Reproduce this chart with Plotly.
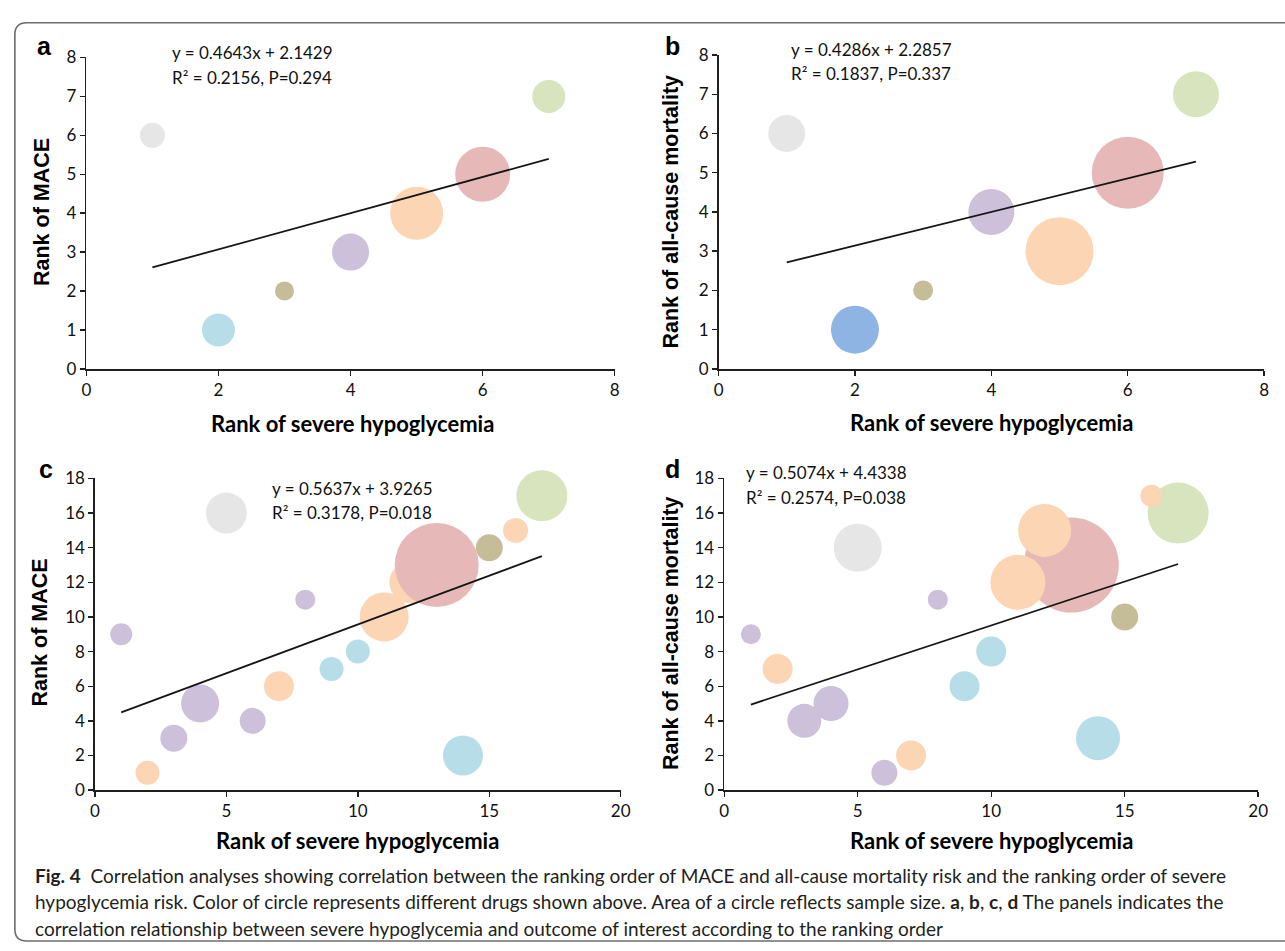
import numpy as np
import plotly.graph_objects as go

W, H = 1285, 951

# ---------------- data ----------------
GREY, LBLUE, OLIVE, PURPLE = "#e6e6e6", "#b7dee8", "#c4bd97", "#ccc0da"
ORANGE, RED, GREEN, BLUE = "#fcd5b5", "#e6b9b8", "#d7e4bd", "#8db4e2"

a_x = [1, 2, 3, 4, 5, 6, 7]
a_y = [6, 1, 2, 3, 4, 5, 7]
a_size = [25, 33, 19, 37, 53, 55, 33]
a_col = [GREY, LBLUE, OLIVE, PURPLE, ORANGE, RED, GREEN]

b_x = [1, 2, 3, 4, 5, 6, 7]
b_y = [6, 1, 2, 4, 3, 5, 7]
b_size = [37, 48, 20, 46, 68, 72, 46]
b_col = [GREY, BLUE, OLIVE, PURPLE, ORANGE, RED, GREEN]

c_x = list(range(1, 18))
c_y = [9, 1, 3, 5, 16, 4, 6, 11, 7, 8, 10, 12, 13, 2, 14, 15, 17]
c_size = [22, 24, 27, 38, 41, 26, 30, 20, 24, 24, 49, 42, 84, 40, 27, 25, 51]
c_col = [PURPLE, ORANGE, PURPLE, PURPLE, GREY, PURPLE, ORANGE, PURPLE, LBLUE,
         LBLUE, ORANGE, ORANGE, RED, LBLUE, OLIVE, ORANGE, GREEN]

d_x = list(range(1, 18))
d_y = [9, 7, 4, 5, 14, 1, 2, 11, 6, 8, 12, 15, 13, 3, 10, 17, 16]
d_size = [20, 30, 34, 35, 48, 26, 30, 20, 30, 30, 55, 53, 95, 44, 27, 22, 61]
d_col = c_col

eq_lines = [
    ["y = 0.4643x + 2.1429", "R² = 0.2156, P=0.294"],
    ["y = 0.4286x + 2.2857", "R² = 0.1837, P=0.337"],
    ["y = 0.5637x + 3.9265", "R² = 0.3178, P=0.018"],
    ["y = 0.5074x + 4.4338", "R² = 0.2574, P=0.038"],
]
y_titles = ["Rank of MACE", "Rank of all-cause mortality", "Rank of MACE", "Rank of all-cause mortality"]
x_title = "Rank of severe hypoglycemia"
letters = ["a", "b", "c", "d"]

caption = [
    "<b>Fig. 4</b>  Correlation analyses showing correlation between the ranking order of MACE and all-cause mortality risk and the ranking order of severe",
    "hypoglycemia risk. Color of circle represents different drugs shown above. Area of a circle reflects sample size. <b>a</b>, <b>b</b>, <b>c</b>, <b>d</b> The panels indicates the",
    "correlation relationship between severe hypoglycemia and outcome of interest according to the ranking order",
]

# ---------------- layout helpers ----------------
def px(x):
    return x / W

def py(y):
    return 1 - y / H

# pixel geometry of plot areas: (left, right, top, bottom)
boxes = [(82.3, 617, 47.5, 366), (722, 1274, 45, 366),
         (91, 623, 478, 796.7), (727.7, 1268, 478, 796.7)]
xranges = [[0, 8], [0, 8], [0, 20], [0, 20]]
yranges = [[0, 8], [0, 8], [0, 18], [0, 18]]
xdt = [2, 2, 5, 5]
ydt = [1, 1, 2, 2]

eq_pos = [(167, 42, 68), (793.5, 39, 64), (268.5, 488, 513), (748, 472, 497)]
letter_pos = [(40, 36), (675, 36), (41, 468), (675, 468)]
ytitle_pos = [(38, 206), (674, 205), (35, 636), (674, 636)]
xtitle_pos = [(352, 422), (998, 421), (357, 848), (998, 848)]

fig = go.Figure()

panels = [(a_x, a_y, a_size, a_col, "x"), (b_x, b_y, b_size, b_col, "x"),
          (c_x, c_y, c_size, c_col, "x"), (d_x, d_y, d_size, d_col, "size")]

AX = "#1f1f1f"
TICKFONT = dict(family="Lato, Carlito, Liberation Sans", size=17, color="#111")

for i, (xs, ys, ss, cs, order) in enumerate(panels):
    n = i + 1
    xa = "x" if n == 1 else f"x{n}"
    ya = "y" if n == 1 else f"y{n}"
    idx = list(range(len(xs)))
    if order == "size":
        idx = sorted(idx, key=lambda k: -ss[k])
    fig.add_trace(go.Scatter(
        x=[xs[k] for k in idx], y=[ys[k] for k in idx], mode="markers",
        marker=dict(size=[ss[k] for k in idx], sizemode="diameter",
                    color=[cs[k] for k in idx], opacity=1,
                    line=dict(width=0)),
        cliponaxis=False, showlegend=False, xaxis=xa, yaxis=ya, hoverinfo="skip"))
    slope, icpt = np.polyfit(xs, ys, 1)
    xl = np.array([min(xs), max(xs)], dtype=float)
    fig.add_trace(go.Scatter(
        x=xl, y=slope * xl + icpt, mode="lines",
        line=dict(color="#151515", width=1.8),
        cliponaxis=False, showlegend=False, xaxis=xa, yaxis=ya, hoverinfo="skip"))

    l, r, t, b = boxes[i]
    axkw = dict(showgrid=False, zeroline=False, showline=True, linecolor=AX,
                linewidth=1.6, ticks="outside", ticklen=5, tickwidth=1.4,
                tickcolor=AX, tickfont=TICKFONT, fixedrange=True)
    fig.layout[f"xaxis{'' if n == 1 else n}"] = dict(
        domain=[px(l), px(r)], range=xranges[i], dtick=xdt[i], tick0=0,
        anchor=ya, **axkw)
    fig.layout[f"yaxis{'' if n == 1 else n}"] = dict(
        domain=[py(b), py(t)], range=yranges[i], dtick=ydt[i], tick0=0,
        anchor=xa, **axkw)

    ex, ey1, ey2 = eq_pos[i]
    for line, yy in zip(eq_lines[i], (ey1, ey2)):
        fig.add_annotation(x=px(ex), y=py(yy), xref="paper", yref="paper",
                           text=line, showarrow=False, xanchor="left",
                           yanchor="middle",
                           font=dict(family="Lato, Carlito", size=17, color="#111"))
    lx, ly = letter_pos[i]
    fig.add_annotation(x=px(lx), y=py(ly), xref="paper", yref="paper",
                       text=f"<b>{letters[i]}</b>", showarrow=False,
                       xanchor="center", yanchor="middle",
                       font=dict(family="Liberation Sans, Arial", size=25, color="#000"))
    tx, ty = ytitle_pos[i]
    fig.add_annotation(x=px(tx), y=py(ty), xref="paper", yref="paper",
                       text=f"<b>{y_titles[i]}</b>", showarrow=False, textangle=-90,
                       xanchor="center", yanchor="middle",
                       font=dict(family="Liberation Sans, Arial", size=21.5, color="#000"))
    tx, ty = xtitle_pos[i]
    fig.add_annotation(x=px(tx), y=py(ty), xref="paper", yref="paper",
                       text=f"<b>{x_title}</b>", showarrow=False,
                       xanchor="center", yanchor="middle",
                       font=dict(family="Lato, Carlito", size=22, color="#000"))

cap_y = [884, 911, 938]
for line, yy in zip(caption, cap_y):
    fig.add_annotation(x=px(28), y=py(yy), xref="paper", yref="paper",
                       text=line, showarrow=False, xanchor="left", yanchor="middle",
                       font=dict(family="Lato, Open Sans", size=19, color="#231f20"))

# rounded frame
def P(x, y):
    return f"{px(x):.5f},{py(y):.5f}"

frame = (f"M {P(1300, 12)} L {P(22, 12)} Q {P(10, 12)} {P(10, 24)} "
         f"L {P(10, 939)} Q {P(10, 951)} {P(22, 951)} L {P(1300, 951)}")
fig.add_shape(type="path", path=frame, xref="paper", yref="paper",
              line=dict(color="#6d6d6d", width=1.6))

fig.update_layout(width=W, height=H, autosize=False,
                  margin=dict(l=0, r=0, t=0, b=0),
                  paper_bgcolor="white", plot_bgcolor="white")

fig.write_html("out.html",
               config={"displayModeBar": False, "staticPlot": True},
               post_script="document.body.style.margin='0';"
                           "document.body.style.overflow='hidden';")
